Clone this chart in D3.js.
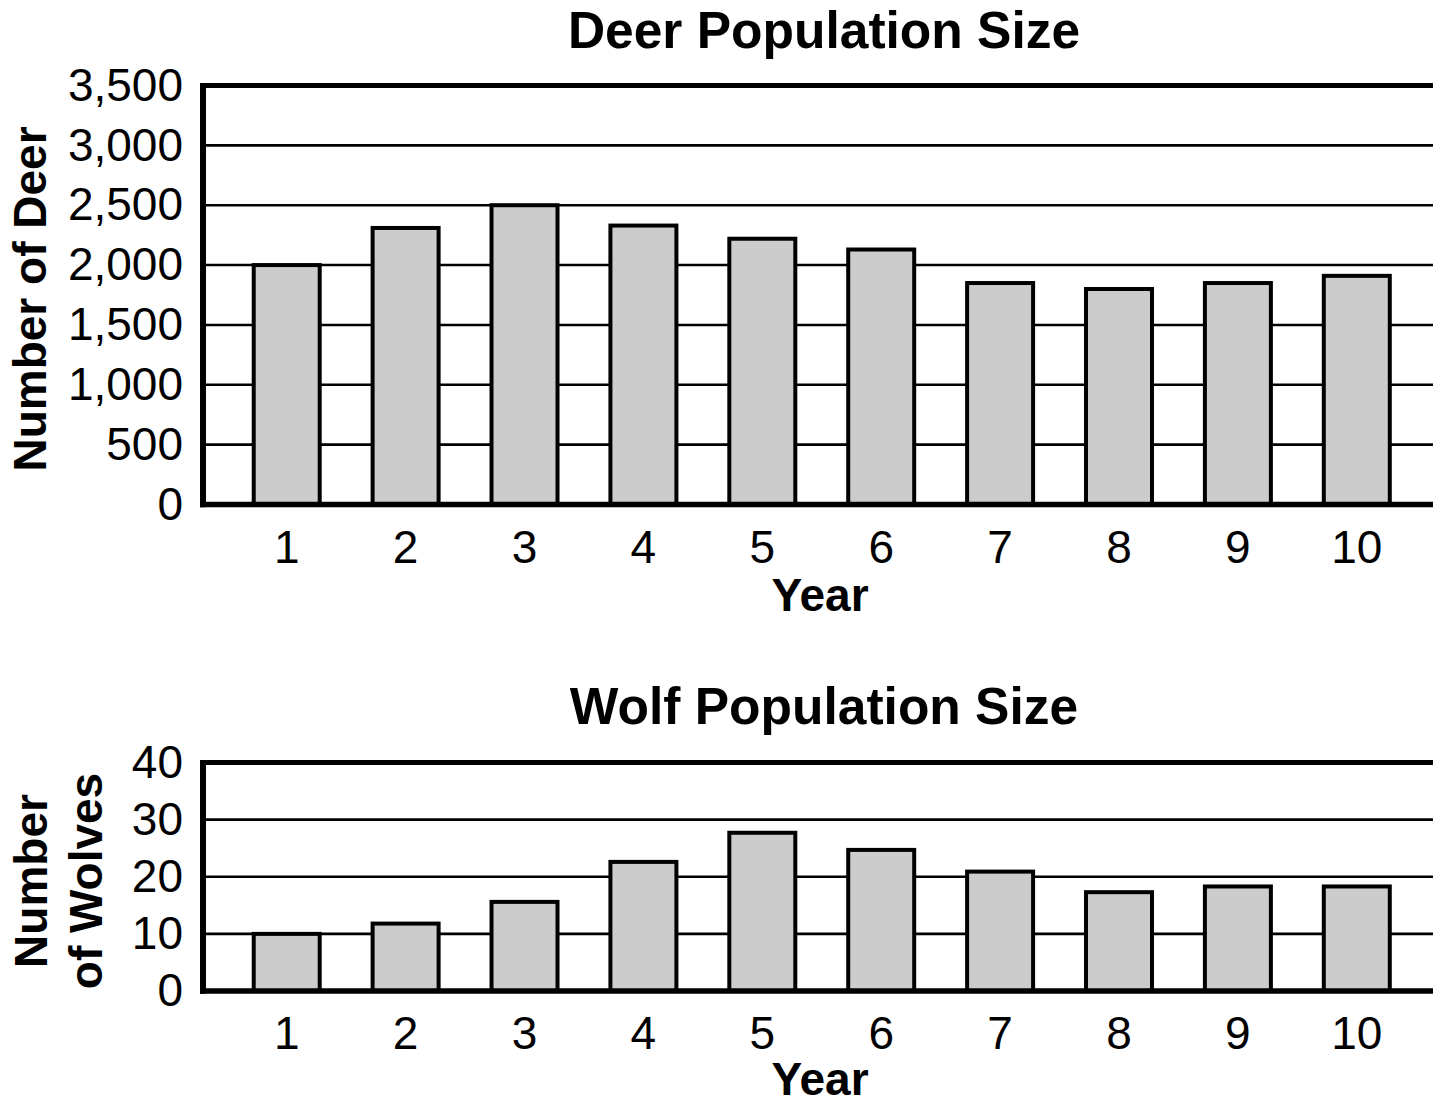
<!DOCTYPE html>
<html>
<head>
<meta charset="utf-8">
<script src="https://cdn.jsdelivr.net/npm/d3@7"></script>
<style>
  html, body { margin: 0; padding: 0; background: #fff; }
  svg { display: block; font-family: "Liberation Sans", Arial, Helvetica, sans-serif; }
</style>
</head>
<body>
<svg id="chart" width="1433" height="1104"></svg>
<script>
// Years shared by both panels
const years = [1, 2, 3, 4, 5, 6, 7, 8, 9, 10];

// Deer counts per year
const deerCounts = [2000, 2310, 2500, 2330, 2220, 2130, 1850, 1800, 1850, 1910];
const deerTicks = [0, 500, 1000, 1500, 2000, 2500, 3000, 3500];

// Wolf counts per year
const wolfCounts = [10, 11.8, 15.6, 22.6, 27.7, 24.7, 20.9, 17.3, 18.3, 18.3];
const wolfTicks = [0, 10, 20, 30, 40];

const svg = d3.select("#chart");

const plotLeft = 203, plotRight = 1433;
const tickFont = 46, labelFont = 46, titleFont = 51.5;

const x = d3.scaleBand()
  .domain(years)
  .range([plotLeft, plotRight])
  .paddingInner(0.445)
  .paddingOuter(0.395)
  .align(0.54);

function panel(opts) {
  const { values, ticks, top, bottom, title, titleY, yLabelLines, yearY } = opts;
  const y = d3.scaleLinear().domain([0, d3.max(ticks)]).range([bottom, top]);
  const g = svg.append("g");

  // horizontal grid lines
  g.append("g").selectAll("line")
    .data(ticks)
    .join("line")
    .attr("x1", plotLeft).attr("x2", plotRight)
    .attr("y1", d => y(d)).attr("y2", d => y(d))
    .attr("stroke", "#000")
    .attr("stroke-width", 2.6);

  // bars
  g.append("g").selectAll("rect")
    .data(values.map((v, i) => ({ year: years[i], v })))
    .join("rect")
    .attr("x", d => x(d.year))
    .attr("width", x.bandwidth())
    .attr("y", d => y(d.v))
    .attr("height", d => y(0) - y(d.v))
    .attr("fill", "#cccccc")
    .attr("stroke", "#000")
    .attr("stroke-width", 4);

  // frame: top, bottom, left
  g.append("line")
    .attr("x1", plotLeft - 3).attr("x2", plotRight)
    .attr("y1", y(d3.max(ticks))).attr("y2", y(d3.max(ticks)))
    .attr("stroke", "#000").attr("stroke-width", 5);
  g.append("line")
    .attr("x1", plotLeft - 3).attr("x2", plotRight)
    .attr("y1", y(0)).attr("y2", y(0))
    .attr("stroke", "#000").attr("stroke-width", 5.5);
  g.append("line")
    .attr("x1", plotLeft).attr("x2", plotLeft)
    .attr("y1", y(d3.max(ticks)) - 2.5).attr("y2", y(0) + 2.75)
    .attr("stroke", "#000").attr("stroke-width", 6);

  // y axis labels
  const yAxis = d3.axisLeft(y)
    .tickValues(ticks)
    .tickFormat(d3.format(","))
    .tickSize(0)
    .tickPadding(17);
  const ya = g.append("g").attr("transform", `translate(${plotLeft - 3},0)`).call(yAxis);
  ya.select(".domain").remove();
  ya.selectAll("text")
    .attr("font-size", tickFont)
    .attr("font-family", "'Liberation Sans', Arial, sans-serif")
    .attr("fill", "#000");

  // x axis labels
  const xAxis = d3.axisBottom(x).tickSize(0).tickPadding(opts.xPad);
  const xa = g.append("g").attr("transform", `translate(0,${y(0)})`).call(xAxis);
  xa.select(".domain").remove();
  xa.selectAll("text")
    .attr("font-size", tickFont)
    .attr("font-family", "'Liberation Sans', Arial, sans-serif")
    .attr("fill", "#000");

  // title
  g.append("text")
    .attr("x", 824).attr("y", titleY)
    .attr("text-anchor", "middle")
    .attr("font-weight", "bold")
    .attr("font-size", titleFont)
    .text(title);

  // x axis title
  g.append("text")
    .attr("x", 820).attr("y", yearY)
    .attr("text-anchor", "middle")
    .attr("font-weight", "bold")
    .attr("font-size", labelFont)
    .text("Year");

  // y axis title (rotated, possibly multi-line)
  const cy = opts.yLabelCenter;
  const lab = g.append("text")
    .attr("transform", `translate(0,${cy}) rotate(-90)`)
    .attr("text-anchor", "middle")
    .attr("font-weight", "bold")
    .attr("font-size", labelFont);
  yLabelLines.forEach((line, i) => {
    lab.append("tspan")
      .attr("x", 0)
      .attr("y", opts.yLabelBaselines[i])
      .text(line);
  });
}

panel({
  values: deerCounts,
  ticks: deerTicks,
  top: 85.5,
  bottom: 504.5,
  title: "Deer Population Size",
  titleY: 48,
  yLabelLines: ["Number of Deer"],
  yLabelCenter: 299,
  yLabelBaselines: [46],
  yearY: 611,
  xPad: 26
});

panel({
  values: wolfCounts,
  ticks: wolfTicks,
  top: 762.5,
  bottom: 991,
  title: "Wolf Population Size",
  titleY: 724,
  yLabelLines: ["Number", "of Wolves"],
  yLabelCenter: 881,
  yLabelBaselines: [47, 102],
  yearY: 1095,
  xPad: 25
});
</script>
</body>
</html>
